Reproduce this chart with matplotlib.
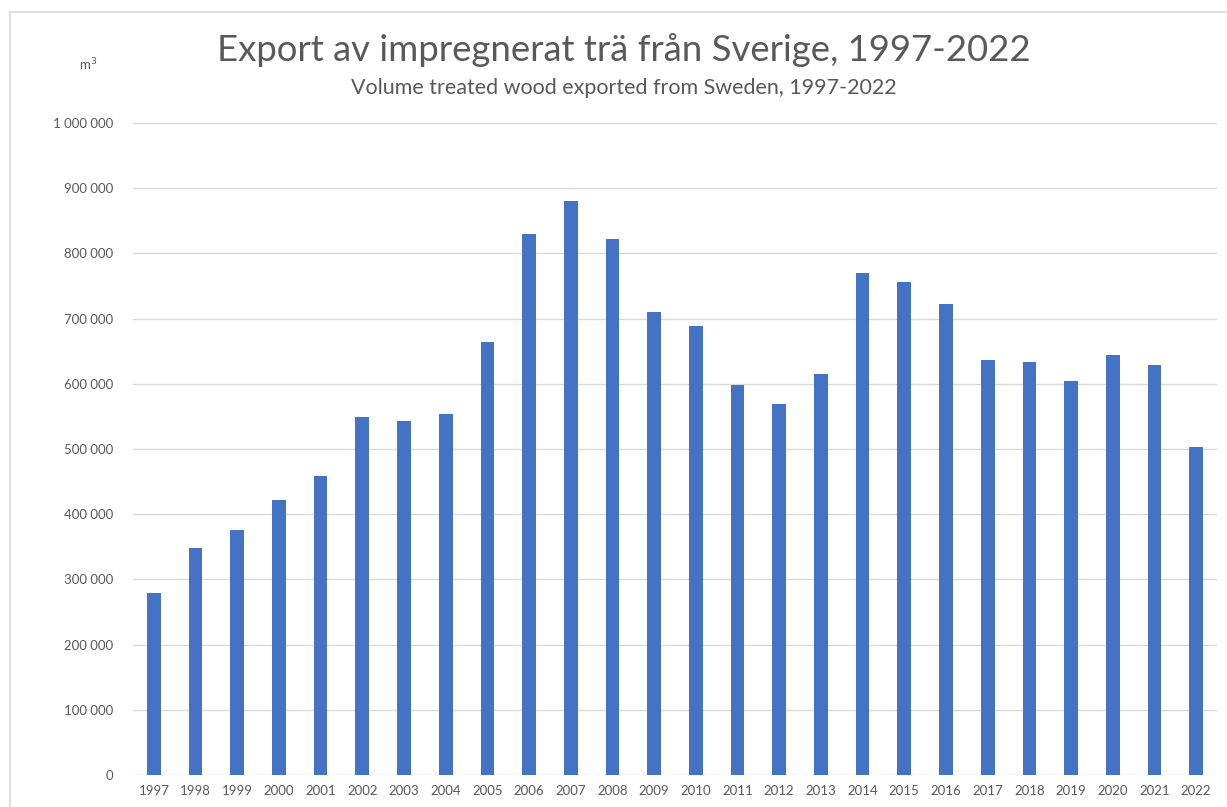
import matplotlib.pyplot as plt
from matplotlib.patches import Rectangle
from matplotlib.ticker import FuncFormatter

years = [str(y) for y in range(1997, 2023)]
volumes = [279000, 348000, 376000, 422000, 459000, 549000, 543000, 554000,
           664000, 830000, 880000, 822000, 710000, 689000, 598000, 569000,
           615000, 770000, 756000, 722000, 637000, 633000, 604000, 644000,
           629000, 503000]

plt.rcParams['font.family'] = ['Lato', 'DejaVu Sans']

fig = plt.figure(figsize=(12.27, 8.07), dpi=100)
# ram runt diagrammet
fig.patches.append(Rectangle((10 / 1227, -0.05), 1.1, 1 - 12 / 807 + 0.05,
                             transform=fig.transFigure, fill=False,
                             edgecolor='#d9d9d9', linewidth=1.2))

ax = fig.add_axes([133 / 1227, 1 - 775 / 807, 1084 / 1227, 652 / 807])
x = range(len(years))
ax.bar(x, volumes, width=0.33, color='#4472C4', zorder=3)

ax.set_xlim(-0.5, len(years) - 0.5)
ax.set_ylim(0, 1000000)
ax.set_yticks(range(0, 1000001, 100000))
ax.yaxis.set_major_formatter(FuncFormatter(lambda v, p: f'{int(v):,}'.replace(',', ' ')))
ax.set_xticks(list(x))
ax.set_xticklabels(years)
ax.grid(axis='y', color='#d9d9d9', linewidth=1, zorder=0)
for s in ax.spines.values():
    s.set_visible(False)
ax.tick_params(axis='both', length=0, labelsize=9.5, colors='#595959')
ax.tick_params(axis='y', pad=14)
ax.tick_params(axis='x', pad=7)

fig.text(624 / 1227, 1 - 50 / 807, 'Export av impregnerat trä från Sverige, 1997-2022',
         ha='center', va='center', fontsize=26.3, color='#595959')
fig.text(624 / 1227, 1 - 88 / 807, 'Volume treated wood exported from Sweden, 1997-2022',
         ha='center', va='center', fontsize=15.5, color='#595959')
fig.text(88 / 1227, 1 - 65 / 807, 'm$^3$', ha='center', va='center',
         fontsize=9.5, color='#595959')

plt.savefig('out.png', dpi=100)
